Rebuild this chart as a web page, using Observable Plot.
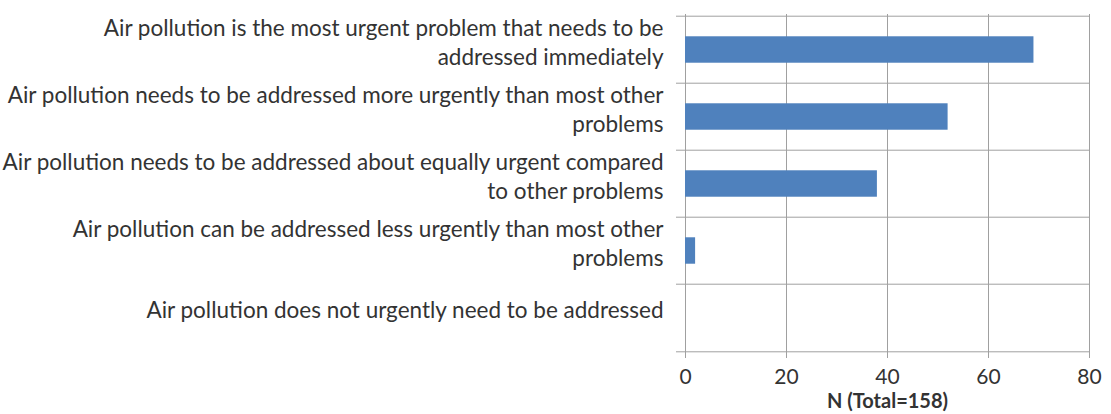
<!DOCTYPE html>
<html>
<head>
<meta charset="utf-8">
<script src="https://cdn.jsdelivr.net/npm/d3@7"></script>
<script src="https://cdn.jsdelivr.net/npm/@observablehq/plot@0.6"></script>
<style>
  html, body { margin: 0; padding: 0; background: #fff; }
  #chart { width: 1111px; height: 414px; }
</style>
</head>
<body>
<div id="chart"></div>
<script>
const categories = [
  "Air pollution is the most urgent problem that needs to be addressed immediately",
  "Air pollution needs to be addressed more urgently than most other problems",
  "Air pollution needs to be addressed about equally urgent compared to other problems",
  "Air pollution can be addressed less urgently than most other problems",
  "Air pollution does not urgently need to be addressed"
];
const tickLabels = [
  "Air pollution is the most urgent problem that needs to be\naddressed immediately",
  "Air pollution needs to be addressed more urgently than most other\nproblems",
  "Air pollution needs to be addressed about equally urgent compared\nto other problems",
  "Air pollution can be addressed less urgently than most other\nproblems",
  "Air pollution does not urgently need to be addressed"
];
const counts = [69, 52, 38, 2, 0];
const xTicks = [0, 20, 40, 60, 80];
const xLabel = "N (Total=158)";

const data = categories.map((c, i) => ({category: c, n: counts[i]}));

const W = 1111, H = 414;
const mL = 685, mR = 22, mT = 14, mB = 62;
const step = (H - mT - mB) / categories.length;
const gridColor = "#a0a0a0";
const textColor = "#333";
const font = "Lato, 'Open Sans', sans-serif";

const chart = Plot.plot({
  width: W,
  height: H,
  marginLeft: mL,
  marginRight: mR,
  marginTop: mT,
  marginBottom: mB,
  style: {fontFamily: font, fontSize: "20px", color: textColor, background: "#fff"},
  x: {domain: [0, 80], ticks: xTicks},
  y: {domain: categories, padding: 0},
  marks: [
    Plot.gridX(xTicks, {stroke: gridColor, strokeOpacity: 1}),
    Plot.ruleY(categories, {y: d => d, dy: -step / 2, stroke: gridColor, strokeOpacity: 1, insetLeft: -9}),
    Plot.ruleY(categories.slice(-1), {y: d => d, dy: step / 2, stroke: gridColor, strokeOpacity: 1, insetLeft: -9}),
    Plot.barX(data, {x: "n", y: "category", fill: "#4F81BD", insetTop: step * 0.3, insetBottom: step * 0.3}),
    Plot.axisX({
      ticks: xTicks,
      tickSize: 6,
      tickPadding: 11,
      stroke: gridColor,
      fill: textColor,
      fontSize: 21,
      label: null
    }),
    Plot.axisY({
      tickSize: 0,
      tickPadding: 22,
      fill: textColor,
      fontSize: 22.5,
      lineHeight: 1.3,
      dy: -9,
      tickFormat: (d) => tickLabels[categories.indexOf(d)],
      label: null
    }),
    Plot.text([xLabel], {
      frameAnchor: "bottom",
      dy: 55,
      text: d => d,
      fontSize: 20,
      fontWeight: "bold",
      fill: textColor
    })
  ]
});

document.getElementById("chart").appendChild(chart);
</script>
</body>
</html>
